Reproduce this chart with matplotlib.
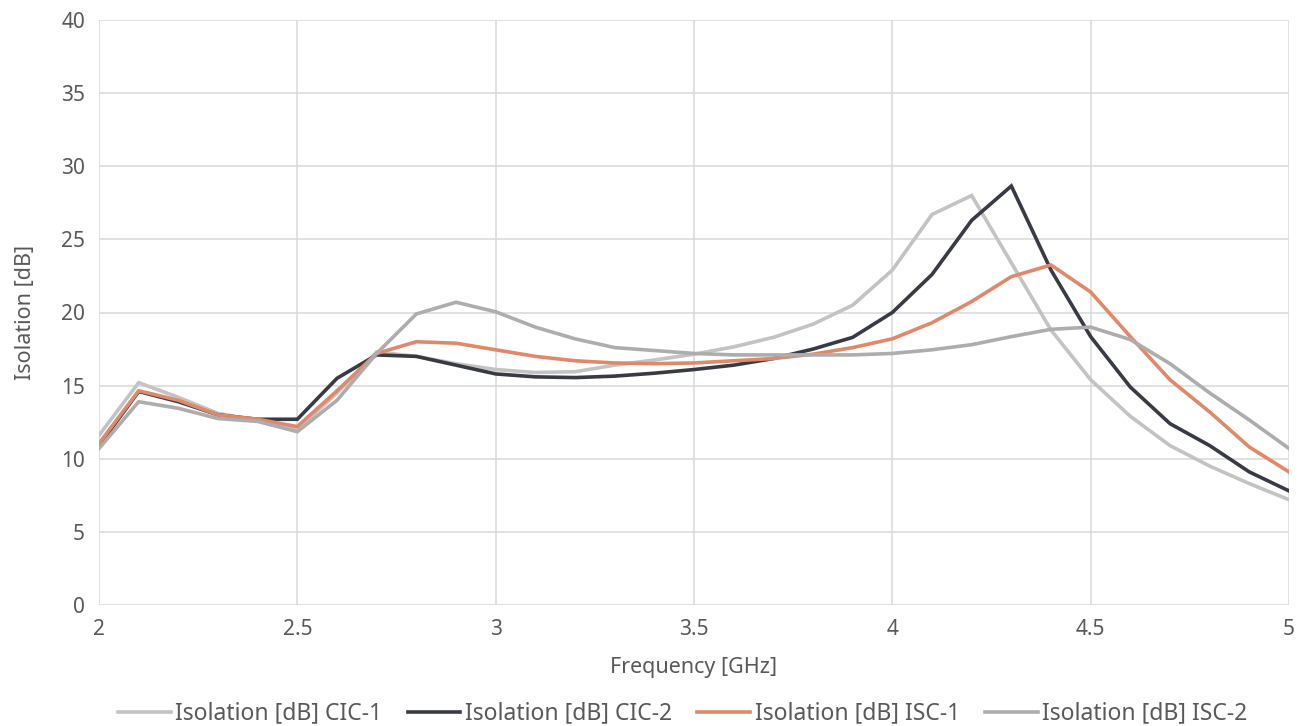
import numpy as np
import matplotlib.pyplot as plt

# frequency sweep, GHz
freq = [2.0, 2.1, 2.2, 2.3, 2.4, 2.5, 2.6, 2.7, 2.8, 2.9, 3.0,
        3.1, 3.2, 3.3, 3.4, 3.5, 3.6, 3.7, 3.8, 3.9, 4.0,
        4.1, 4.2, 4.3, 4.4, 4.5, 4.6, 4.7, 4.8, 4.9, 5.0]

# isolation values, dB
cic1 = [11.6, 15.2, 14.2, 13.1, 12.6, 12.0, 14.5, 17.3, 17.0, 16.5, 16.1,
        15.9, 15.95, 16.4, 16.75, 17.15, 17.65, 18.3, 19.2, 20.5, 22.9,
        26.7, 28.0, 23.4, 18.8, 15.4, 12.9, 10.9, 9.5, 8.3, 7.2]
cic2 = [10.9, 14.6, 13.9, 13.0, 12.7, 12.7, 15.5, 17.1, 17.0, 16.4, 15.8,
        15.6, 15.55, 15.65, 15.85, 16.1, 16.4, 16.85, 17.5, 18.3, 20.0,
        22.6, 26.3, 28.65, 22.9, 18.35, 14.9, 12.4, 10.9, 9.1, 7.8]
isc1 = [11.05, 14.65, 14.0, 13.0, 12.7, 12.2, 14.65, 17.2, 18.0, 17.9, 17.45,
        17.0, 16.7, 16.55, 16.5, 16.55, 16.7, 16.85, 17.15, 17.6, 18.2,
        19.3, 20.75, 22.45, 23.25, 21.4, 18.35, 15.4, 13.2, 10.8, 9.1]
isc2 = [10.7, 13.9, 13.45, 12.75, 12.55, 11.85, 14.0, 17.2, 19.9, 20.7, 20.05,
        19.0, 18.2, 17.6, 17.4, 17.2, 17.1, 17.1, 17.1, 17.1, 17.2,
        17.45, 17.8, 18.35, 18.85, 19.0, 18.15, 16.5, 14.5, 12.65, 10.7]

series_names = ['Isolation [dB] CIC-1', 'Isolation [dB] CIC-2',
                'Isolation [dB] ISC-1', 'Isolation [dB] ISC-2']
colors = ['#C3C3C3', '#383B44', '#E0896A', '#ADADAD']

plt.rcParams['font.family'] = ['Noto Sans', 'DejaVu Sans']

fig = plt.figure(figsize=(13.08, 7.26), dpi=100)
ax = fig.add_axes([99/1308, 1-605/726, (1289-99)/1308, (605-20)/726])

for y, c, n in zip([cic1, cic2, isc1, isc2], colors, series_names):
    ax.plot(freq, y, color=c, linewidth=2.6, label=n, solid_joinstyle='miter')

ax.set_xlim(2, 5)
ax.set_ylim(0, 40)
ax.set_xticks(np.arange(2, 5.01, 0.5))
ax.set_xticklabels(['2', '2.5', '3', '3.5', '4', '4.5', '5'])
ax.set_yticks(np.arange(0, 41, 5))
ax.grid(True, color='#D9D9D9', linewidth=1.1)
ax.set_axisbelow(True)
for s in ax.spines.values():
    s.set_visible(False)
ax.tick_params(length=0, labelsize=15, colors='#595959', pad=10)

ax.set_xlabel('Frequency [GHz]', fontsize=15.5, color='#595959', labelpad=12)
ax.set_ylabel('Isolation [dB]', fontsize=15.5, color='#595959', labelpad=18)

leg = fig.legend(loc='center', bbox_to_anchor=(0.522, 0.017), ncol=4,
                 frameon=False, fontsize=16.5, handlelength=2.3, columnspacing=1.1,
                 handletextpad=0.2)
for t in leg.get_texts():
    t.set_color('#595959')

plt.savefig('out.png', dpi=100)
